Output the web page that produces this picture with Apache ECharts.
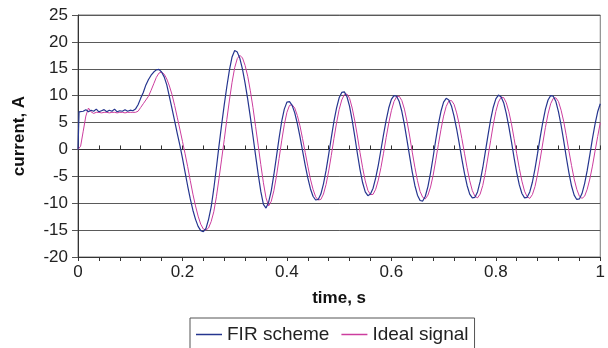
<!DOCTYPE html>
<html>
<head>
<meta charset="utf-8">
<script src="https://cdn.jsdelivr.net/npm/echarts@6/dist/echarts.min.js"></script>
<style>
  html, body { margin: 0; padding: 0; background: #fff; }
  #chart { width: 608px; height: 348px; }
</style>
</head>
<body>
<div id="chart"></div>
<script>
// sample times in ms
var timeMs = [
  0, 2, 5, 10, 15, 20, 25, 30, 35, 40, 45,
  50, 55, 60, 65, 70, 75, 80, 85, 90, 95,
  100, 105, 110, 115, 120, 125, 130, 135, 140, 145,
  150, 155, 160, 165, 170, 175, 180, 185, 190, 195,
  200, 205, 210, 215, 220, 225, 230, 235, 240, 245,
  250, 255, 260, 265, 270, 275, 280, 285, 290, 295,
  300, 305, 310, 315, 320, 325, 330, 335, 340, 345,
  350, 355, 360, 365, 370, 375, 380, 385, 390, 395,
  400, 405, 410, 415, 420, 425, 430, 435, 440, 445,
  450, 455, 460, 465, 470, 475, 480, 485, 490, 495,
  500, 505, 510, 515, 520, 525, 530, 535, 540, 545,
  550, 555, 560, 565, 570, 575, 580, 585, 590, 595,
  600, 605, 610, 615, 620, 625, 630, 635, 640, 645,
  650, 655, 660, 665, 670, 675, 680, 685, 690, 695,
  700, 705, 710, 715, 720, 725, 730, 735, 740, 745,
  750, 755, 760, 765, 770, 775, 780, 785, 790, 795,
  800, 805, 810, 815, 820, 825, 830, 835, 840, 845,
  850, 855, 860, 865, 870, 875, 880, 885, 890, 895,
  900, 905, 910, 915, 920, 925, 930, 935, 940, 945,
  950, 955, 960, 965, 970, 975, 980, 985, 990, 995,
  1000
];

var firScheme = [
  0, 7.0, 7.3, 7.1, 7.4, 7.0, 7.3, 7.1, 7.5, 7.0, 7.2,
  7.4, 7.0, 7.3, 7.1, 7.5, 7.0, 7.2, 7.1, 7.4, 7.1,
  7.3, 7.2, 7.5, 8.3, 9.5, 10.6, 12.0, 13.0, 13.8, 14.4,
  14.8, 14.9, 14.4, 13.5, 12.0, 9.8, 7.6, 5.3, 3.0, 0.8,
  -1.6, -4.2, -6.8, -9.2, -11.3, -13.0, -14.3, -15.1, -15.3, -14.7,
  -13.0, -10.7, -7.3, -3.4, 0.7, 4.6, 8.3, 11.7, 14.8, 17.2,
  18.4, 18.1, 16.9, 14.9, 12.3, 9.3, 6.0, 2.5, -1.1, -4.6,
  -7.8, -10.2, -10.9, -9.8, -7.7, -4.7, -1.35, 2.1, 5.2, 7.5,
  8.8, 8.9, 8.2, 6.8, 4.8, 2.4, -0.25, -2.9, -5.3, -7.3,
  -8.7, -9.4, -9.3, -8.3, -6.4, -3.9, -0.9, 2.2, 5.2, 7.7,
  9.6, 10.6, 10.7, 9.8, 8.0, 5.4, 2.4, -0.8, -3.75, -6.2,
  -7.9, -8.6, -8.3, -7.2, -5.3, -2.9, -0.1, 2.75, 5.4, 7.7,
  9.3, 10.0, 9.9, 8.9, 7.1, 4.6, 1.7, -1.3, -4.2, -6.7,
  -8.5, -9.5, -9.6, -8.7, -6.9, -4.35, -1.4, 1.8, 4.7, 7.1,
  8.8, 9.5, 9.2, 8.1, 6.2, 3.8, 1.1, -1.8, -4.45, -6.7,
  -8.3, -9.0, -8.9, -7.9, -5.95, -3.4, -0.4, 2.6, 5.5, 7.8,
  9.4, 10.1, 9.8, 8.7, 6.7, 4.2, 1.4, -1.55, -4.3, -6.6,
  -8.2, -9.0, -8.9, -7.9, -6.1, -3.6, -0.7, 2.3, 5.1, 7.5,
  9.2, 10.0, 9.9, 8.9, 7.0, 4.5, 1.6, -1.5, -4.35, -6.8,
  -8.5, -9.3, -9.2, -8.2, -6.35, -3.9, -1.0, 2.0, 4.7, 7.0,
  8.5
];

var idealSignal = [
  0, 0, 0.6, 3.4, 6.2, 7.7, 7.0, 6.7, 6.9, 6.9, 6.8,
  6.9, 6.9, 6.8, 6.9, 6.9, 6.8, 6.9, 6.9, 6.8, 6.9,
  6.9, 6.9, 6.9, 7.1, 7.8, 8.5, 9.2, 9.9, 11.0, 12.2,
  13.4, 14.2, 14.4, 14.0, 13.1, 11.8, 10.2, 8.2, 6.0, 3.8,
  1.5, -0.8, -3.2, -5.8, -8.3, -10.5, -12.4, -13.9, -14.8, -15.0,
  -14.6, -13.4, -11.6, -8.8, -5.4, -1.8, 1.8, 5.6, 9.2, 12.5,
  15.2, 16.9, 17.5, 17.0, 15.6, 13.6, 10.9, 7.8, 4.3, 0.8,
  -2.8, -6.2, -9.0, -10.5, -9.65, -7.7, -4.95, -1.7, 1.6, 4.6,
  6.9, 8.2, 8.3, 7.7, 6.3, 4.4, 2.0, -0.55, -3.1, -5.5,
  -7.4, -8.8, -9.4, -9.3, -8.3, -6.5, -4.0, -1.1, 2.0, 4.9,
  7.4, 9.2, 10.2, 10.3, 9.5, 7.7, 5.3, 2.5, -0.6, -3.4,
  -5.85, -7.6, -8.4, -8.35, -7.4, -5.7, -3.4, -0.7, 2.2, 4.9,
  7.2, 8.9, 9.8, 9.9, 9.1, 7.5, 5.2, 2.5, -0.5, -3.3,
  -5.8, -7.8, -8.9, -9.2, -8.5, -7.0, -4.8, -2.0, 0.9, 3.7,
  6.2, 8.0, 9.0, 9.1, 8.4, 6.8, 4.65, 2.0, -0.7, -3.4,
  -5.8, -7.65, -8.7, -9.0, -8.3, -6.7, -4.3, -1.4, 1.6, 4.55,
  7.05, 8.8, 9.7, 9.65, 8.7, 7.0, 4.75, 2.0, -0.8, -3.5,
  -5.9, -7.75, -8.8, -9.1, -8.4, -6.9, -4.6, -1.8, 1.2, 4.1,
  6.6, 8.5, 9.5, 9.6, 8.9, 7.3, 5.2, 2.55, -0.3, -3.0,
  -5.5, -7.4, -8.7, -9.1, -8.7, -7.4, -5.5, -3.1, -0.3, 2.4,
  4.95
];

var xTickLabels = ['0', '0.2', '0.4', '0.6', '0.8', '1'];

function pairs(values) {
  return timeMs.map(function (ms, i) { return [ms / 1000, values[i]]; });
}

var font = '"Liberation Sans", Arial, sans-serif';
var chart = echarts.init(document.getElementById('chart'));

// extra axes that sit on y = 0 and carry the small cross ticks
function zeroTickAxis(inside) {
  return {
    type: 'value',
    min: 0,
    max: 1,
    interval: 0.04,
    position: 'bottom',
    axisLine: { show: true, onZero: true, lineStyle: { color: '#333', width: 1 } },
    axisTick: { show: true, inside: inside, length: 4, lineStyle: { color: '#333', width: 1 } },
    axisLabel: { show: false },
    splitLine: { show: false }
  };
}

chart.setOption({
  animation: false,
  textStyle: { fontFamily: font },
  grid: {
    left: 78,
    right: 5,
    top: 15,
    bottom: 91,
    show: true,
    borderColor: '#777',
    borderWidth: 1
  },
  legend: {
    left: 190,
    top: 318,
    padding: [7, 6, 8, 6],
    itemGap: 12,
    itemWidth: 26,
    itemHeight: 1.5,
    icon: 'rect',
    borderColor: '#555',
    borderWidth: 1,
    borderRadius: 0,
    textStyle: { fontSize: 19, color: '#222', fontFamily: font },
    data: ['FIR scheme', 'Ideal signal']
  },
  xAxis: [
    {
      type: 'value',
      min: 0,
      max: 1,
      interval: 0.2,
      name: 'time, s',
      nameLocation: 'middle',
      nameGap: 33,
      nameTextStyle: { fontSize: 17, fontWeight: 'bold', color: '#111', fontFamily: font },
      axisLine: { show: true, onZero: false, lineStyle: { color: '#333', width: 1 } },
      axisTick: { show: false },
      axisLabel: {
        fontSize: 17,
        color: '#222',
        margin: 7,
        formatter: function (v) { return xTickLabels[Math.round(v / 0.2)]; }
      },
      splitLine: { show: false }
    },
    zeroTickAxis(true),
    zeroTickAxis(false)
  ],
  yAxis: {
    type: 'value',
    min: -20,
    max: 25,
    interval: 5,
    name: 'current, A',
    nameLocation: 'middle',
    nameGap: 50,
    nameTextStyle: { fontSize: 17, fontWeight: 'bold', color: '#111', fontFamily: font },
    axisLine: { show: true, lineStyle: { color: '#333', width: 1 } },
    axisTick: { show: true, length: 6, lineStyle: { color: '#555' } },
    axisLabel: { fontSize: 17, color: '#222', margin: 10 },
    splitLine: { show: true, lineStyle: { color: '#5a5a5a', width: 1 } }
  },
  series: [
    {
      name: 'FIR scheme',
      type: 'line',
      showSymbol: false,
      symbol: 'none',
      lineStyle: { color: '#25358f', width: 1.2 },
      itemStyle: { color: '#25358f' },
      z: 3,
      data: pairs(firScheme)
    },
    {
      name: 'Ideal signal',
      type: 'line',
      showSymbol: false,
      symbol: 'none',
      lineStyle: { color: '#cc3d9e', width: 1 },
      itemStyle: { color: '#cc3d9e' },
      z: 2,
      data: pairs(idealSignal)
    }
  ]
});
</script>
</body>
</html>
